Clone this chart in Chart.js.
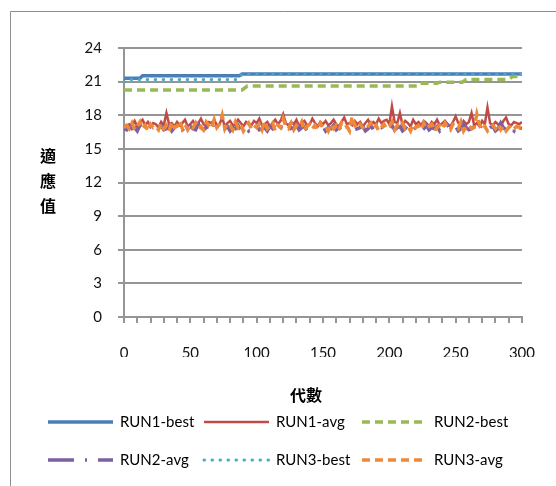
<!DOCTYPE html>
<html>
<head>
  <meta charset="utf-8">
  <title>適應值 - 代數</title>
  <script src="https://cdn.jsdelivr.net/npm/chart.js@4.4.0/dist/chart.umd.min.js"></script>
  <style>
    body {
      margin: 0;
      padding: 0;
      overflow: hidden;
      background: #fff;
    }
    .chart-container {
      position: relative;
      width: 556px;
      height: 486px;
    }
  </style>
</head>
<body>
  <div class="chart-container">
    <canvas id="fitnessChart"></canvas>
  </div>

  <script>
    // Axis ticks
    const yTicks = [0, 3, 6, 9, 12, 15, 18, 21, 24];
    const xLabelTicks = [0, 50, 100, 150, 200, 250, 300];

    // "best" series: generations where the value changes, and the values there
    const run1BestGen = [0, 12, 14, 87, 89, 300];
    const run1BestVal = [21.3, 21.3, 21.53, 21.53, 21.68, 21.68];
    const run2BestGen = [0, 89, 93, 221, 223, 236, 238, 255, 258, 290, 293, 300];
    const run2BestVal = [20.25, 20.25, 20.6, 20.6, 20.85, 20.85, 20.95, 20.95, 21.2, 21.2, 21.45, 21.45];
    const run3BestGen = [0, 3, 5, 86, 89, 300];
    const run3BestVal = [21.0, 21.0, 21.2, 21.2, 21.66, 21.66];

    // "avg" series, read every 2 generations (0, 2, ... 300)
    const avgGen = Array.from({ length: 151 }, (_, i) => i * 2);
    const run1Avg = [
      17.0, 16.9, 17.2, 17.1, 17.5, 17.0, 17.3, 17.6, 17.1, 17.4,
      17.0, 17.3, 17.2, 16.9, 17.4, 17.1, 18.2, 17.2, 17.3, 17.0,
      17.4, 17.1, 17.3, 17.6, 17.0, 17.2, 17.5, 17.1, 17.3, 17.7,
      17.2, 17.0, 17.4, 17.3, 17.6, 17.1, 17.2, 17.8, 17.0, 17.3,
      17.5, 17.1, 17.2, 17.6, 17.3, 17.0, 17.4, 17.2, 17.1, 17.5,
      17.3, 17.7, 17.1, 17.2, 17.4, 17.0, 17.3, 17.6, 17.2, 17.5,
      18.1, 17.3, 17.1, 17.4, 17.2, 17.6, 17.0, 17.3, 17.5, 17.1,
      17.2, 17.7, 17.3, 17.0, 17.4, 17.2, 17.5, 17.1, 17.3, 17.6,
      17.2, 17.0, 17.4, 17.8, 17.2, 17.3, 17.1, 17.5, 17.2, 17.4,
      17.0, 17.3, 17.6, 17.1, 17.4, 17.2, 17.7, 17.3, 17.5, 17.6,
      17.2, 18.8, 17.4, 17.3, 18.2, 17.1, 17.5, 17.3, 17.0, 17.6,
      17.2, 17.4, 17.1, 17.5, 17.3, 17.0, 17.4, 17.2, 17.6, 17.1,
      17.3, 17.5, 17.2, 17.0, 17.4, 17.9, 17.3, 17.1, 17.5, 17.2,
      17.4, 18.2, 17.1, 17.3, 17.0, 17.5, 17.2, 18.7, 17.3, 17.1,
      17.4, 17.2, 17.0, 17.5, 17.8, 17.2, 17.1, 17.4, 17.3, 17.2,
      17.4
    ];
    const run2Avg = [
      16.8, 16.7, 17.0, 16.8, 16.9, 16.6, 17.1, 16.8, 16.9, 16.7,
      17.0, 16.8, 16.6, 16.9, 17.1, 16.7, 16.8, 17.0, 16.6, 16.9,
      16.8, 17.1, 16.7, 16.9, 16.6, 17.0, 16.8, 16.7, 17.2, 16.9,
      16.7, 16.9, 17.0, 16.6, 16.8, 17.1, 16.7, 16.9, 16.8, 17.0,
      16.6, 16.9, 16.8, 17.1, 16.7, 16.9, 17.0, 16.6, 16.8, 16.9,
      17.1, 16.7, 16.8, 16.9, 16.6, 17.0, 16.8, 17.2, 16.7, 16.9,
      16.8, 17.0, 16.6, 16.9, 16.8, 17.1, 16.7, 16.9, 17.0, 16.6,
      16.8, 16.9, 17.1, 16.7, 16.8, 17.0, 16.6, 16.9, 16.8, 17.1,
      16.7, 16.9, 16.6, 17.0, 16.8, 16.9, 17.2, 16.7, 16.8, 16.9,
      17.0, 16.6, 16.8, 17.1, 16.7, 16.9, 16.8, 17.0, 16.6, 16.9,
      16.8, 17.1, 16.7, 16.9, 17.0, 16.6, 16.8, 17.2, 16.9, 16.7,
      16.9, 17.0, 16.6, 16.8, 17.1, 16.7, 16.9, 16.8, 17.0, 16.6,
      16.9, 16.8, 17.1, 16.7, 16.9, 17.0, 16.6, 16.8, 17.2, 16.9,
      16.7, 16.8, 17.0, 16.6, 16.9, 17.1, 16.8, 16.7, 16.9, 17.0,
      16.6, 16.8, 17.3, 16.9, 16.7, 17.0, 16.8, 16.6, 17.2, 16.9,
      16.8
    ];
    const run3Avg = [
      16.9, 17.1, 16.8, 17.3, 16.7, 17.0, 17.4, 16.8, 17.1, 16.6,
      17.2, 16.9, 17.0, 16.7, 17.3, 16.8, 17.1, 16.6, 17.4, 16.9,
      17.0, 17.5, 16.8, 17.2, 16.7, 17.1, 16.9, 17.3, 16.8, 17.0,
      16.7, 17.4, 17.1, 16.8, 17.6, 16.9, 17.2, 18.0, 16.8, 17.3,
      17.1, 16.7, 17.4, 16.9, 17.2, 16.6, 17.0, 17.3, 16.8, 17.1,
      16.9, 17.2, 16.7, 17.5, 16.8, 17.0, 17.3, 16.6, 17.1, 16.9,
      17.7, 17.0, 16.8, 17.3, 16.7, 17.1, 16.9, 17.4, 16.6, 17.0,
      17.2, 16.8, 17.1, 16.7, 17.3, 16.9, 17.0, 16.6, 17.2, 16.8,
      17.1, 16.7, 17.3, 16.9, 17.0, 16.6, 17.9, 17.1, 16.8, 17.2,
      16.9, 16.7, 17.0, 17.3, 16.8, 17.1, 16.6, 16.9, 17.2, 16.8,
      17.0, 17.4, 16.7, 17.1, 16.9, 17.3, 16.8, 17.0, 16.6, 17.2,
      16.9, 17.1, 16.7, 17.3, 16.8, 17.0, 17.2, 16.6, 16.9, 17.1,
      16.8, 17.3, 16.9, 16.7, 17.2, 17.0, 16.8, 17.4, 16.6, 17.0,
      17.1, 16.8, 16.9, 18.1, 17.2, 16.7, 17.0, 16.6, 16.9, 17.1,
      16.8, 17.2, 16.7, 17.0, 16.6, 16.9, 17.1, 16.8, 17.0, 16.9,
      16.9
    ];

    const seriesNames = ['RUN1-best', 'RUN1-avg', 'RUN2-best', 'RUN2-avg', 'RUN3-best', 'RUN3-avg'];

    const toPoints = (gens, vals) => gens.map((g, i) => ({ x: g, y: vals[i] }));

    const styles = [
      { color: '#4a7ebb', width: 3.5, dash: [], cap: 'butt' },
      { color: '#be4b48', width: 2.5, dash: [], cap: 'butt' },
      { color: '#98b954', width: 3.5, dash: [8, 5], cap: 'butt' },
      { color: '#7d60a0', width: 3.5, dash: [26, 11, 2, 11], cap: 'butt' },
      { color: '#46aac5', width: 3, dash: [0.5, 7.5], cap: 'round' },
      { color: '#f0883a', width: 3.5, dash: [8, 5], cap: 'butt' }
    ];

    const seriesData = [
      toPoints(run1BestGen, run1BestVal),
      toPoints(avgGen, run1Avg),
      toPoints(run2BestGen, run2BestVal),
      toPoints(avgGen, run2Avg),
      toPoints(run3BestGen, run3BestVal),
      toPoints(avgGen, run3Avg)
    ];

    const datasets = seriesNames.map((name, i) => ({
      label: name,
      data: seriesData[i],
      borderColor: styles[i].color,
      backgroundColor: styles[i].color,
      borderWidth: styles[i].width,
      borderDash: styles[i].dash,
      borderCapStyle: styles[i].cap,
      pointRadius: 0,
      tension: 0,
      fill: false,
      // later series sit on top, like the original
      order: seriesNames.length - i
    }));

    const tickFont = { family: 'Lato, "Open Sans", sans-serif', size: 15 };
    const gridGray = '#959595';

    // frame, axis titles and the two-row legend
    const decorations = {
      id: 'decorations',
      afterDraw(chart) {
        const ctx = chart.ctx;
        ctx.save();

        // outer frame (only left and top edges are in view)
        ctx.strokeStyle = '#8e8e8e';
        ctx.lineWidth = 1;
        ctx.beginPath();
        ctx.moveTo(10.5, 486);
        ctx.lineTo(10.5, 11.5);
        ctx.lineTo(556, 11.5);
        ctx.stroke();

        // y title, stacked characters
        ctx.fillStyle = '#000';
        ctx.font = 'bold 16px "Noto Sans CJK TC", sans-serif';
        ctx.textAlign = 'center';
        ctx.textBaseline = 'middle';
        ['適', '應', '值'].forEach((ch, i) => ctx.fillText(ch, 48, 156 + i * 25));

        // x title
        ctx.fillText('代數', 306, 395);

        // legend
        const colX = [48, 204, 362];
        const rowY = [422, 460];
        ctx.font = '15px Lato, "Open Sans", sans-serif';
        ctx.textAlign = 'left';
        chart.data.datasets.forEach((ds, i) => {
          const x = colX[i % 3];
          const y = rowY[Math.floor(i / 3)];
          ctx.save();
          ctx.strokeStyle = ds.borderColor;
          ctx.lineWidth = ds.borderWidth;
          ctx.setLineDash(ds.borderDash);
          ctx.lineCap = ds.borderCapStyle;
          ctx.beginPath();
          ctx.moveTo(x, y);
          ctx.lineTo(x + 65, y);
          ctx.stroke();
          ctx.restore();
          ctx.fillStyle = '#000';
          ctx.fillText(ds.label, x + 72, y);
        });

        ctx.restore();
      }
    };

    const ctx = document.getElementById('fitnessChart').getContext('2d');
    const chart = new Chart(ctx, {
      type: 'line',
      data: { datasets: datasets },
      options: {
        responsive: true,
        maintainAspectRatio: false,
        animation: false,
        devicePixelRatio: 1,
        layout: {
          padding: { left: 0, right: 29, top: 48, bottom: 129 }
        },
        plugins: {
          legend: { display: false },
          tooltip: { enabled: false }
        },
        scales: {
          x: {
            type: 'linear',
            min: 0,
            max: 300,
            afterFit(scale) { scale.height = 40; },
            border: { color: gridGray, width: 2 },
            grid: {
              drawOnChartArea: false,
              drawTicks: true,
              tickLength: 6,
              color: gridGray,
              lineWidth: 2
            },
            ticks: {
              stepSize: 10,
              autoSkip: false,
              maxRotation: 0,
              padding: 21,
              color: '#111',
              font: tickFont,
              callback: (v) => (xLabelTicks.includes(v) ? String(v) : '')
            }
          },
          y: {
            min: 0,
            max: 24,
            afterFit(scale) { scale.width = 124; },
            afterBuildTicks(scale) { scale.ticks = yTicks.map(v => ({ value: v })); },
            border: { color: gridGray, width: 2 },
            grid: {
              color: gridGray,
              lineWidth: 2,
              tickLength: 6
            },
            ticks: {
              padding: 16,
              color: '#111',
              font: tickFont
            }
          }
        }
      },
      plugins: [decorations]
    });
  </script>
</body>
</html>
